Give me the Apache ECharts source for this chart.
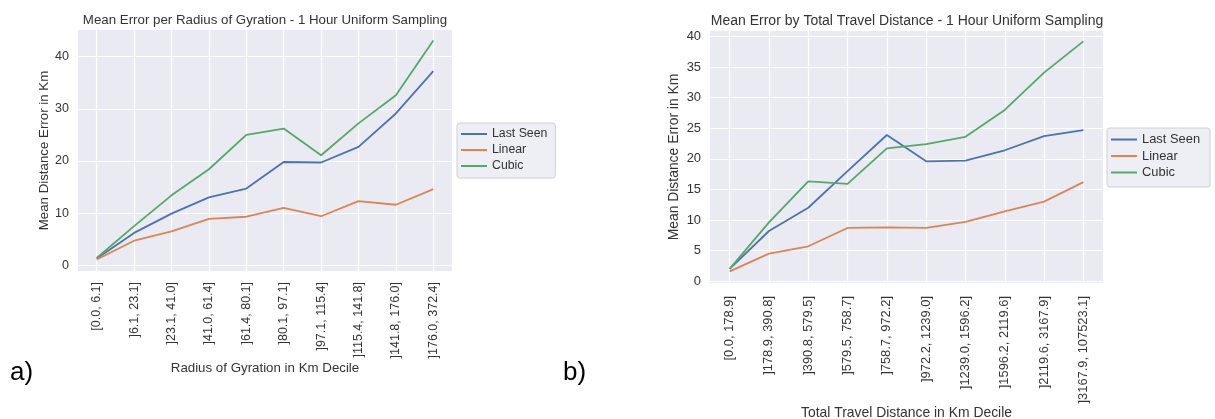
<!DOCTYPE html>
<html>
<head>
<meta charset="utf-8">
<script src="https://cdn.jsdelivr.net/npm/echarts@6/dist/echarts.min.js"></script>
<style>
html,body{margin:0;padding:0;background:#fff;}
#c{width:1215px;height:419px;}
</style>
</head>
<body>
<div id="c"></div>
<script>
// ---- data ----
const seriesNames = ['Last Seen', 'Linear', 'Cubic'];

const gyrationCategories = ['[0.0, 6.1]', ']6.1, 23.1]', ']23.1, 41.0]', ']41.0, 61.4]', ']61.4, 80.1]',
  ']80.1, 97.1]', ']97.1, 115.4]', ']115.4, 141.8]', ']141.8, 176.0]', ']176.0, 372.4]'];
const gyrationLastSeen = [1.3, 6.2, 9.9, 13.0, 14.7, 19.8, 19.7, 22.7, 29.1, 37.2];
const gyrationLinear   = [1.1, 4.7, 6.5, 8.9, 9.3, 11.0, 9.4, 12.3, 11.6, 14.6];
const gyrationCubic    = [1.4, 7.5, 13.4, 18.4, 25.0, 26.2, 21.1, 27.2, 32.6, 43.1];

const travelCategories = ['[0.0, 178.9]', ']178.9, 390.8]', ']390.8, 579.5]', ']579.5, 758.7]', ']758.7, 972.2]',
  ']972.2, 1239.0]', ']1239.0, 1596.2]', ']1596.2, 2119.6]', ']2119.6, 3167.9]', ']3167.9, 107523.1]'];
const travelLastSeen = [2.0, 8.2, 12.0, 18.0, 23.9, 19.6, 19.7, 21.4, 23.7, 24.7];
const travelLinear   = [1.6, 4.5, 5.7, 8.7, 8.8, 8.7, 9.7, 11.4, 13.0, 16.2];
const travelCubic    = [2.0, 9.6, 16.3, 15.9, 21.7, 22.4, 23.6, 28.0, 34.1, 39.2];

const leftYTicks = [0, 10, 20, 30, 40];
const rightYTicks = [0, 5, 10, 15, 20, 25, 30, 35, 40];

// ---- style ----
const colors = ['#4c72b0', '#dd8452', '#55a868'];
const textColor = '#333';
const font = 'Liberation Sans, Arial, sans-serif';

function xAxis(grid, cats, name, nameGap, margin, fs, nfs) {
  return {
    type: 'category', gridIndex: grid, data: cats, boundaryGap: true,
    name: name, nameLocation: 'middle', nameGap: nameGap, nameMoveOverlap: false,
    nameTextStyle: {color: textColor, fontSize: nfs, fontFamily: font},
    axisLine: {show: false}, axisTick: {show: false, alignWithLabel: true},
    axisLabel: {rotate: 90, margin: margin, color: textColor, fontSize: fs, fontFamily: font, interval: 0},
    splitLine: {show: true, alignWithLabel: true, interval: 0, lineStyle: {color: '#fff', width: 1.2}}
  };
}
function yAxis(grid, min, max, ticks, nameGap, fs, nfs) {
  return {
    type: 'value', gridIndex: grid, min: min, max: max,
    name: 'Mean Distance Error in Km', nameLocation: 'middle', nameGap: nameGap, nameMoveOverlap: false,
    nameTextStyle: {color: textColor, fontSize: nfs, fontFamily: font},
    axisLine: {show: false},
    axisTick: {show: false, customValues: ticks},
    axisLabel: {margin: 9, color: textColor, fontSize: fs, fontFamily: font, customValues: ticks},
    splitLine: {show: true, lineStyle: {color: '#fff', width: 1.2}}
  };
}
function line(name, data, idx, axis) {
  return {
    type: 'line', name: name, data: data, xAxisIndex: axis, yAxisIndex: axis,
    symbol: 'none', showSymbol: false, smooth: false,
    lineStyle: {color: colors[idx], width: 1.8}, itemStyle: {color: colors[idx]}
  };
}
function legend(left, top, fs, gap, pad) {
  return {
    data: seriesNames, orient: 'vertical', left: left, top: top,
    icon: 'rect', itemWidth: 26, itemHeight: 2, itemGap: gap,
    padding: pad,
    backgroundColor: '#eeeef5', borderColor: '#d0d0d8', borderWidth: 1, borderRadius: 3,
    textStyle: {color: textColor, fontSize: fs, fontFamily: font}
  };
}

const chart = echarts.init(document.getElementById('c'), null, {renderer: 'canvas'});
chart.setOption({
  animation: false,
  backgroundColor: '#fff',
  title: [
    {text: 'Mean Error per Radius of Gyration - 1 Hour Uniform Sampling', left: 260, top: 9, textAlign: 'center',
      textStyle: {color: textColor, fontSize: 13.3, fontWeight: 'normal', fontFamily: font}},
    {text: 'Mean Error by Total Travel Distance - 1 Hour Uniform Sampling', left: 902, top: 9, textAlign: 'center',
      textStyle: {color: textColor, fontSize: 14, fontWeight: 'normal', fontFamily: font}}
  ],
  graphic: [
    {type: 'text', left: 10, top: 360, style: {text: 'a)', font: '26px Liberation Sans, Arial, sans-serif', fill: '#000'}},
    {type: 'text', left: 563, top: 360, style: {text: 'b)', font: '26px Liberation Sans, Arial, sans-serif', fill: '#000'}}
  ],
  legend: [legend(457, 123, 12.3, 4, [5, 8, 6, 4]), legend(1107, 128, 12.9, 3.5, [5, 10, 8, 4])],
  grid: [
    {left: 78, top: 30, width: 374, height: 241, show: true, backgroundColor: '#eaeaf2', borderWidth: 0,
      containLabel: false, outerBoundsMode: 'none'},
    {left: 710, top: 31, width: 393, height: 252, show: true, backgroundColor: '#eaeaf2', borderWidth: 0,
      containLabel: false, outerBoundsMode: 'none'}
  ],
  xAxis: [
    xAxis(0, gyrationCategories, 'Radius of Gyration in Km Decile', 91, 11, 12.5, 13.3),
    xAxis(1, travelCategories, 'Total Travel Distance in Km Decile', 123, 13, 12.9, 13.9)
  ],
  yAxis: [
    yAxis(0, -1.1, 45.1, leftYTicks, 27, 12.5, 13.3),
    yAxis(1, -0.3, 40.9, rightYTicks, 29, 12.9, 13.9)
  ],
  series: [
    line(seriesNames[0], gyrationLastSeen, 0, 0),
    line(seriesNames[1], gyrationLinear, 1, 0),
    line(seriesNames[2], gyrationCubic, 2, 0),
    line(seriesNames[0], travelLastSeen, 0, 1),
    line(seriesNames[1], travelLinear, 1, 1),
    line(seriesNames[2], travelCubic, 2, 1)
  ]
});
</script>
</body>
</html>
